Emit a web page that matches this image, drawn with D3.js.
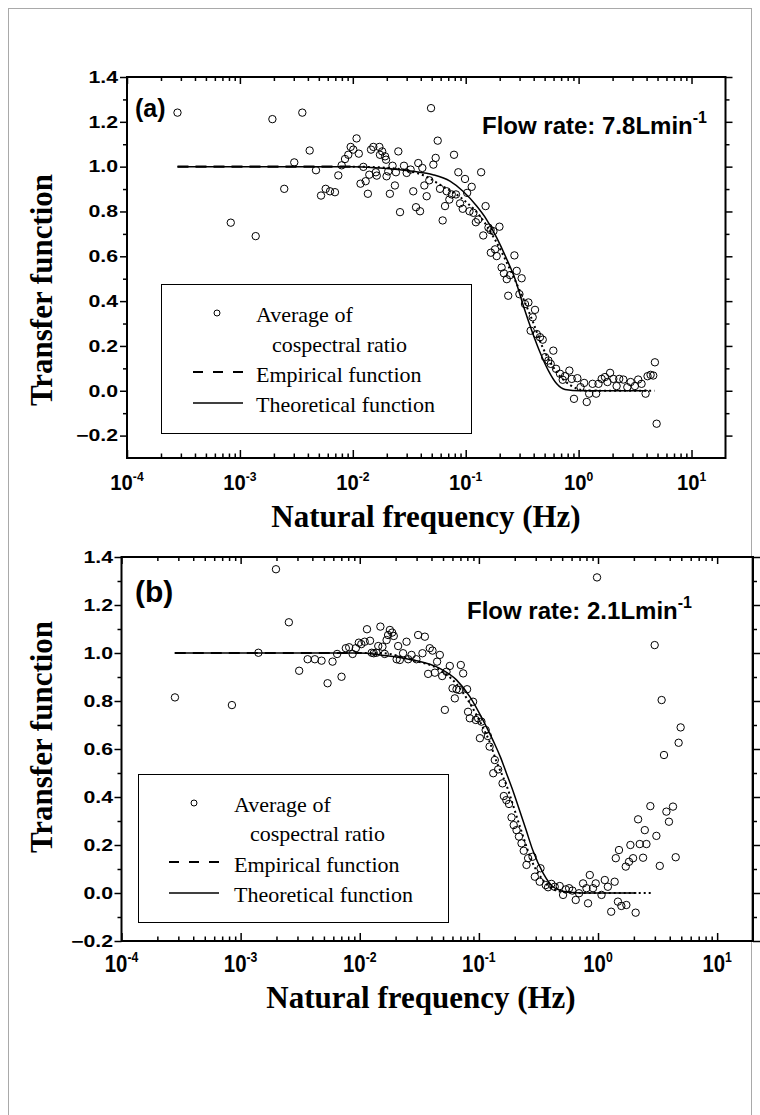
<!DOCTYPE html>
<html lang="en">
<head>
<meta charset="utf-8">
<title>Transfer function vs natural frequency</title>
<style>
  body { margin:0; background:white; }
  .serif { font-family:"Liberation Serif", "Times New Roman", serif; }
  .sans { font-family:"Liberation Sans", Arial, sans-serif; font-weight:bold; }
  .tick line { stroke:black; stroke-width:1.5; }
</style>
</head>
<body>
<svg id="chart" width="760" height="1115"></svg>
<script src="https://cdnjs.cloudflare.com/ajax/libs/d3/7.8.5/d3.min.js"></script>
<script>
// ---- data ----
// (a) flow rate 7.8 L/min : average of cospectral ratio
var freqA = [2.8e-4,8.3e-4,1.38e-3,1.94e-3,2.47e-3,3.03e-3,3.57e-3,4.15e-3,4.72e-3,5.23e-3,5.75e-3,6.28e-3,6.95e-3,7.44e-3,7.97e-3,8.53e-3,9.12e-3,9.57e-3,
  1.01e-2,1.08e-2,1.13e-2,1.17e-2,1.24e-2,1.30e-2,1.36e-2,1.40e-2,1.45e-2,1.52e-2,1.60e-2,1.63e-2,1.72e-2,1.74e-2,1.82e-2,1.93e-2,1.97e-2,1.99e-2,
  2.06e-2,2.13e-2,2.25e-2,2.36e-2,2.41e-2,2.53e-2,2.62e-2,2.84e-2,3.00e-2,3.25e-2,3.43e-2,3.63e-2,3.80e-2,3.94e-2,4.13e-2,4.30e-2,4.51e-2,4.76e-2,
  4.93e-2,5.17e-2,5.42e-2,5.65e-2,5.92e-2,6.25e-2,6.56e-2,6.79e-2,7.16e-2,7.52e-2,7.88e-2,8.20e-2,8.60e-2,8.91e-2,9.41e-2,9.86e-2,
  0.103,0.108,0.113,0.117,0.123,0.129,0.137,0.143,0.150,0.159,0.166,0.167,0.176,0.182,0.188,0.199,0.208,0.218,0.231,0.238,0.247,0.270,0.283,0.299,
  0.313,0.335,0.359,0.376,0.392,0.411,0.426,0.455,0.481,0.505,0.540,0.566,0.597,0.631,0.684,0.723,0.758,0.828,0.869,0.910,0.975,
  1.04,1.12,1.18,1.24,1.33,1.43,1.50,1.60,1.71,1.80,1.90,2.03,2.17,2.29,2.49,2.70,2.89,3.15,3.37,3.61,3.92,4.08,4.34,4.58,4.74,4.91];
var ratioA = [1.241,0.750,0.690,1.212,0.901,1.019,1.241,1.072,0.984,0.871,0.901,0.890,0.886,0.961,1.006,1.034,1.053,1.088,
  1.076,1.126,1.058,0.924,0.999,0.935,0.879,0.964,1.076,1.088,0.975,0.960,1.088,1.053,1.068,1.046,1.031,0.957,
  0.979,0.879,1.004,0.916,0.975,1.068,0.797,1.004,0.972,0.987,0.890,0.819,1.016,0.801,0.994,0.916,0.868,0.939,
  1.261,1.009,1.039,1.116,0.901,0.760,0.824,0.890,0.853,0.876,1.053,0.876,0.975,0.836,0.812,0.945,
  0.883,0.801,0.910,0.794,0.752,0.764,0.975,0.693,0.824,0.728,0.717,0.616,0.712,0.631,0.601,0.732,0.550,0.524,0.498,0.424,0.516,0.604,0.535,0.431,
  0.502,0.387,0.394,0.268,0.328,0.361,0.253,0.239,0.228,0.150,0.135,0.120,0.179,0.098,0.076,0.049,0.065,0.090,0.053,-0.036,0.056,
  0.016,0.035,-0.050,-0.013,0.031,-0.013,0.031,0.053,0.061,0.039,0.080,0.053,0.021,0.053,0.050,0.016,0.039,0.021,0.050,0.031,-0.013,0.065,0.071,0.068,0.127,-0.147];
var theoFreqA = [2.8e-4,1e-3,1e-2,0.0174,0.0341,0.0513,0.0726,0.0946,0.125,0.153,0.188,0.231,0.273,0.324,0.385,0.455,0.540,0.640,0.758,1.03,2.0,4.0];
var theoA     = [1.0,1.0,1.0,0.994,0.979,0.964,0.935,0.890,0.824,0.764,0.683,0.587,0.500,0.379,0.268,0.172,0.090,0.031,0.006,0.0,0.0,0.0];
var empFreqA  = [2.8e-4,1e-3,1e-2,0.02,0.035,0.045,0.059,0.0953,0.134,0.181,0.263,0.385,0.487,0.640,0.85,1.2,2.0,4.7];
var empA      = [1.0,1.0,1.0,0.995,0.975,0.955,0.920,0.853,0.779,0.676,0.512,0.320,0.187,0.083,0.024,0.0,0.0,0.0];

// (b) flow rate 2.1 L/min
var freqB = [2.81e-4,8.45e-4,1.41e-3,1.98e-3,2.54e-3,3.10e-3,3.65e-3,4.20e-3,4.78e-3,5.37e-3,5.91e-3,6.46e-3,7.03e-3,7.64e-3,8.15e-3,8.71e-3,9.27e-3,9.82e-3,
  1.03e-2,1.10e-2,1.15e-2,1.22e-2,1.26e-2,1.31e-2,1.38e-2,1.43e-2,1.49e-2,1.55e-2,1.62e-2,1.68e-2,1.73e-2,1.79e-2,1.87e-2,1.93e-2,2.04e-2,2.10e-2,
  2.17e-2,2.31e-2,2.47e-2,2.55e-2,2.72e-2,2.99e-2,3.09e-2,3.36e-2,3.52e-2,3.75e-2,3.87e-2,4.08e-2,4.27e-2,4.46e-2,4.70e-2,4.92e-2,5.18e-2,5.35e-2,
  5.70e-2,6.01e-2,6.28e-2,6.49e-2,6.83e-2,7.05e-2,7.38e-2,7.96e-2,8.11e-2,8.39e-2,8.94e-2,9.42e-2,9.85e-2,
  0.102,0.105,0.114,0.119,0.123,0.132,0.136,0.145,0.158,0.162,0.170,0.179,0.188,0.196,0.207,0.217,0.228,0.238,0.251,0.259,0.282,0.295,0.324,0.329,
  0.364,0.381,0.406,0.433,0.477,0.509,0.536,0.572,0.610,0.650,0.693,0.749,0.800,0.825,0.853,0.908,0.957,0.981,
  1.07,1.14,1.21,1.29,1.38,1.41,1.47,1.50,1.57,1.71,1.73,1.82,1.87,1.97,2.07,2.17,2.24,2.39,2.47,2.55,2.75,2.99,3.09,3.30,3.42,3.58,3.75,3.94,4.26,4.49,4.75,4.94];
var ratioB = [0.815,0.783,1.001,1.349,1.128,0.926,0.974,0.974,0.968,0.874,0.964,0.996,0.901,1.020,1.024,0.996,1.020,1.043,
  1.037,1.047,1.099,1.051,1.001,0.999,1.001,1.029,1.110,1.026,0.996,1.054,1.075,1.096,1.085,1.071,0.974,1.029,
  0.971,0.999,1.047,0.974,0.992,0.974,1.075,0.999,1.068,0.913,1.020,1.010,0.918,0.964,0.992,0.904,0.763,0.922,
  0.946,0.853,0.811,0.849,0.846,0.950,0.915,0.849,0.755,0.728,0.797,0.721,0.728,
  0.645,0.714,0.679,0.654,0.610,0.499,0.554,0.515,0.457,0.404,0.387,0.371,0.315,0.283,0.262,0.235,0.207,0.176,0.117,0.145,0.151,0.068,0.047,0.103,
  0.033,0.024,0.038,0.026,0.029,-0.008,0.015,0.020,0.010,-0.029,-0.001,0.040,0.020,-0.043,0.075,0.020,0.040,1.315,
  -0.008,0.054,0.026,-0.078,0.047,0.145,-0.036,0.179,-0.054,0.110,-0.050,0.130,0.200,0.145,-0.082,0.307,0.204,0.147,0.262,0.204,0.362,1.033,0.238,0.113,0.804,0.575,0.339,0.297,0.360,0.149,0.626,0.690];
var theoFreqB = [2.8e-4,1e-3,1e-2,0.0148,0.0281,0.0469,0.0648,0.0839,0.108,0.123,0.136,0.152,0.170,0.195,0.219,0.250,0.283,0.347,0.419,0.54,0.75,2.1];
var theoB     = [1.0,1.0,1.0,0.992,0.971,0.936,0.888,0.818,0.721,0.665,0.620,0.565,0.500,0.420,0.346,0.260,0.179,0.082,0.026,0.005,0.0,0.0];
var empFreqB  = [2.8e-4,1e-3,1e-2,0.0147,0.028,0.047,0.065,0.084,0.108,0.123,0.14,0.17,0.22,0.28,0.35,0.42,0.54,0.75,2.8];
var empB      = [1.0,1.0,1.0,1.0,0.97,0.93,0.87,0.79,0.69,0.63,0.55,0.45,0.28,0.13,0.05,0.015,0.003,0.0,0.0];

var xTickExp = [-4,-3,-2,-1,0,1];
var yTicks = [-0.2,0,0.2,0.4,0.6,0.8,1.0,1.2,1.4];
var yMinor = [-0.1,0.1,0.3,0.5,0.7,0.9,1.1,1.3];
var legendText = ["Average of", "cospectral ratio", "Empirical function", "Theoretical function"];
var panelTags = ["(a)", "(b)"];
var flowRates = ["7.8", "2.1"];

var svg = d3.select('#chart');

// page border
svg.append('rect')
  .attr('x', 8.5).attr('y', 8.5).attr('width', 743).attr('height', 1140)
  .attr('fill', 'none').attr('stroke', '#a9a9a9').attr('stroke-width', 1);

var panels = [
  { left:127, right:725.5, top:77, bottom:458, yDomain:[-0.3,1.4],
    freq:freqA, ratio:ratioA, tf:theoFreqA, tv:theoA, ef:empFreqA, ev:empA,
    yLabRight:118, yLabSize:16, yLabSx:1.33,
    xLabY:490, xLabSize:22, xLabSx:0.92,
    xTitleX:426, xTitleY:527, yTitleX:52, yTitleY:290,
    tagX:135, tagY:117, tagSize:25,
    flowX:482, flowY:134,
    leg:{ x:161, y:284, w:310, h:149, mx:217, tx:256, ix:272, lx0:193, lx1:243,
          r1:322, r2:352, r3:382, r4:412 } },
  { left:121.5, right:753, top:557, bottom:941, yDomain:[-0.2,1.4],
    freq:freqB, ratio:ratioB, tf:theoFreqB, tv:theoB, ef:empFreqB, ev:empB,
    yLabRight:113, yLabSize:16, yLabSx:1.33,
    xLabY:972, xLabSize:24, xLabSx:0.85,
    xTitleX:421, xTitleY:1008, yTitleX:52, yTitleY:737,
    tagX:135, tagY:602, tagSize:30,
    flowX:467, flowY:619,
    leg:{ x:138, y:774, w:310, h:148, mx:194, tx:234, ix:250, lx0:169, lx1:219,
          r1:812, r2:841, r3:872, r4:902 } }
];

panels.forEach(function(p, pi) {
  var x = d3.scaleLog().domain([1e-4, 20]).range([p.left, p.right]);
  var y = d3.scaleLinear().domain(p.yDomain).range([p.bottom, p.top]);
  var g = svg.append('g');

  var majors = xTickExp.map(function(e){ return Math.pow(10, e); });
  var minors = [];
  xTickExp.forEach(function(e){
    for (var k = 2; k <= 9; k++) { var v = k * Math.pow(10, e); if (v < 20) minors.push(v); }
  });
  function noDomain(sel){ sel.select('.domain').remove(); }

  // x axes: ticks point inward on bottom and top
  g.append('g').attr('transform', 'translate(0,' + p.bottom + ')')
    .call(d3.axisBottom(x).tickValues(majors).tickSize(-8).tickSizeOuter(0).tickFormat('')).call(noDomain);
  g.append('g').attr('transform', 'translate(0,' + p.bottom + ')')
    .call(d3.axisBottom(x).tickValues(minors).tickSize(-4.5).tickSizeOuter(0).tickFormat('')).call(noDomain);
  g.append('g').attr('transform', 'translate(0,' + p.top + ')')
    .call(d3.axisTop(x).tickValues(majors).tickSize(-7).tickSizeOuter(0).tickFormat('')).call(noDomain);
  g.append('g').attr('transform', 'translate(0,' + p.top + ')')
    .call(d3.axisTop(x).tickValues(minors).tickSize(-4).tickSizeOuter(0).tickFormat('')).call(noDomain);

  // y axes: ticks point outward
  var yT = yTicks.filter(function(v){ return v >= p.yDomain[0] && v <= p.yDomain[1]; });
  var yM = yMinor.filter(function(v){ return v > p.yDomain[0] && v < p.yDomain[1]; });
  g.append('g').attr('transform', 'translate(' + p.left + ',0)')
    .call(d3.axisLeft(y).tickValues(yT).tickSize(7).tickSizeOuter(0).tickFormat('')).call(noDomain);
  g.append('g').attr('transform', 'translate(' + p.left + ',0)')
    .call(d3.axisLeft(y).tickValues(yM).tickSize(4).tickSizeOuter(0).tickFormat('')).call(noDomain);
  g.append('g').attr('transform', 'translate(' + p.right + ',0)')
    .call(d3.axisRight(y).tickValues(yT).tickSize(7).tickSizeOuter(0).tickFormat('')).call(noDomain);
  g.append('g').attr('transform', 'translate(' + p.right + ',0)')
    .call(d3.axisRight(y).tickValues(yM).tickSize(4).tickSizeOuter(0).tickFormat('')).call(noDomain);

  // frame
  g.append('rect')
    .attr('x', p.left).attr('y', p.top)
    .attr('width', p.right - p.left).attr('height', p.bottom - p.top)
    .attr('fill', 'none').attr('stroke', 'black').attr('stroke-width', 2);

  // y tick labels (wide bold digits)
  g.selectAll('.ylab').data(yT).enter().append('text')
    .attr('class', 'sans')
    .attr('transform', function(d){ return 'translate(' + p.yLabRight + ',' + y(d) + ') scale(' + p.yLabSx + ',1)'; })
    .attr('text-anchor', 'end').attr('dy', '0.36em')
    .style('font-size', p.yLabSize + 'px')
    .text(d3.format('.1f'));

  // x tick labels 10^n
  var xl = g.selectAll('.xlab').data(xTickExp).enter().append('text')
    .attr('class', 'sans')
    .attr('transform', function(e){ return 'translate(' + x(Math.pow(10, e)) + ',' + p.xLabY + ') scale(' + p.xLabSx + ',1)'; })
    .attr('text-anchor', 'middle')
    .style('font-size', p.xLabSize + 'px');
  xl.append('tspan').text('10');
  xl.append('tspan').attr('dy', -p.xLabSize * 0.42).style('font-size', (p.xLabSize * 0.6) + 'px')
    .text(function(e){ return e === 0 ? '0' : String(e); });

  // axis titles
  g.append('text').attr('class', 'serif')
    .attr('x', p.xTitleX).attr('y', p.xTitleY).attr('text-anchor', 'middle')
    .style('font-size', '31px').style('font-weight', 'bold')
    .text('Natural frequency (Hz)');
  g.append('text').attr('class', 'serif')
    .attr('transform', 'translate(' + p.yTitleX + ',' + p.yTitleY + ') rotate(-90)')
    .attr('text-anchor', 'middle')
    .style('font-size', '31px').style('font-weight', 'bold')
    .text('Transfer function');

  // panel tag and flow rate
  g.append('text').attr('class', 'sans')
    .attr('x', p.tagX).attr('y', p.tagY).style('font-size', p.tagSize + 'px')
    .text(panelTags[pi]);
  var fl = g.append('text').attr('class', 'sans')
    .attr('x', p.flowX).attr('y', p.flowY).style('font-size', '24px');
  fl.append('tspan').text('Flow rate: ' + flowRates[pi] + 'Lmin');
  fl.append('tspan').attr('dy', -11).style('font-size', '16px').text('-1');

  // curves
  var line = d3.line()
    .x(function(d){ return x(d[0]); })
    .y(function(d){ return y(d[1]); })
    .curve(d3.curveMonotoneX);
  var theo = p.tf.map(function(f, i){ return [f, p.tv[i]]; });
  var emp = p.ef.map(function(f, i){ return [f, p.ev[i]]; });
  // empirical: long dashes where sparse, dotted where dense
  g.append('path').datum(emp.filter(function(d){ return d[0] <= 1e-2; }))
    .attr('d', line).attr('fill', 'none').attr('stroke', 'black')
    .attr('stroke-width', 2.2).attr('stroke-dasharray', '11,7');
  g.append('path').datum(emp.filter(function(d){ return d[0] >= 1e-2; }))
    .attr('d', line).attr('fill', 'none').attr('stroke', 'black')
    .attr('stroke-width', 2).attr('stroke-dasharray', '2,3');
  g.append('path').datum(theo)
    .attr('d', line).attr('fill', 'none').attr('stroke', 'black')
    .attr('stroke-width', 1.5);

  // scatter
  g.selectAll('.pt').data(p.freq).enter().append('circle')
    .attr('cx', function(f){ return x(f); })
    .attr('cy', function(f, i){ return y(p.ratio[i]); })
    .attr('r', 3.7)
    .attr('fill', 'none').attr('stroke', 'black').attr('stroke-width', 1);

  // legend
  var L = p.leg;
  var lg = g.append('g');
  lg.append('rect').attr('x', L.x + 0.5).attr('y', L.y + 0.5).attr('width', L.w).attr('height', L.h)
    .attr('fill', 'white').attr('stroke', 'black').attr('stroke-width', 1);
  lg.append('circle').attr('cx', L.mx).attr('cy', L.r1 - 9).attr('r', 3)
    .attr('fill', 'none').attr('stroke', 'black').attr('stroke-width', 1);
  lg.append('line').attr('x1', L.lx0).attr('x2', L.lx1).attr('y1', L.r3 - 10).attr('y2', L.r3 - 10)
    .attr('stroke', 'black').attr('stroke-width', 2).attr('stroke-dasharray', '10,10');
  lg.append('line').attr('x1', L.lx0).attr('x2', L.lx1).attr('y1', L.r4 - 9).attr('y2', L.r4 - 9)
    .attr('stroke', 'black').attr('stroke-width', 1.3);
  var rows = [[L.tx, L.r1], [L.ix, L.r2], [L.tx, L.r3], [L.tx, L.r4]];
  lg.selectAll('.lt').data(legendText).enter().append('text')
    .attr('class', 'serif')
    .attr('x', function(d, i){ return rows[i][0]; })
    .attr('y', function(d, i){ return rows[i][1]; })
    .style('font-size', '22px')
    .text(function(d){ return d; });
});
</script>
</body>
</html>
